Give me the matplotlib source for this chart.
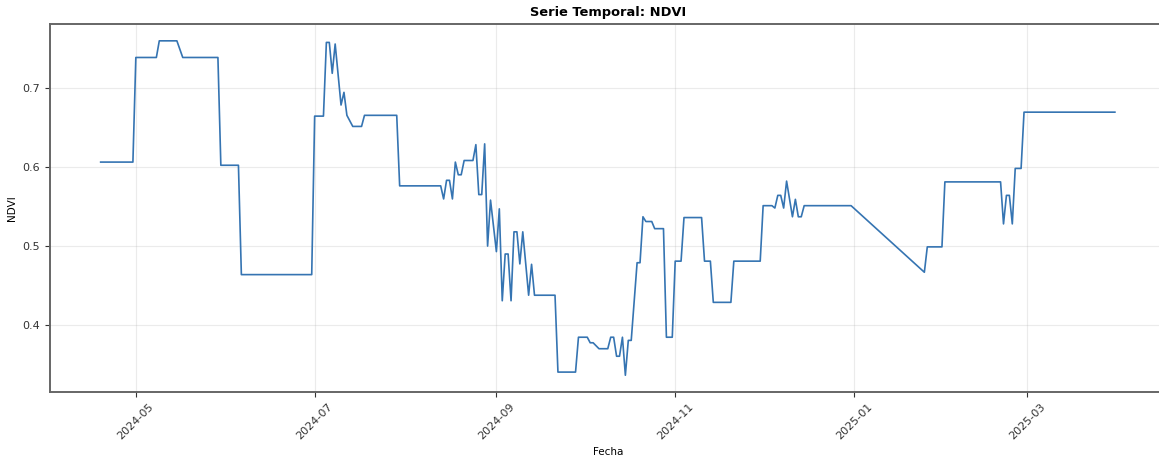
import pandas as pd
import matplotlib
matplotlib.use("Agg")
import matplotlib.pyplot as plt
import matplotlib.dates as mdates

# NDVI readings (dates where the series changes, value on that date)
fechas = [
    "2024-04-19", "2024-04-30", "2024-05-01", "2024-05-08", "2024-05-09",
    "2024-05-15", "2024-05-17", "2024-05-29", "2024-05-30", "2024-06-05",
    "2024-06-06", "2024-06-30", "2024-07-01", "2024-07-04", "2024-07-05",
    "2024-07-06", "2024-07-07", "2024-07-08", "2024-07-10", "2024-07-11",
    "2024-07-12", "2024-07-14", "2024-07-17", "2024-07-18", "2024-07-29",
    "2024-07-30", "2024-08-13", "2024-08-14", "2024-08-15", "2024-08-16",
    "2024-08-17", "2024-08-18", "2024-08-19", "2024-08-20", "2024-08-21",
    "2024-08-24", "2024-08-25", "2024-08-26", "2024-08-27", "2024-08-28",
    "2024-08-29", "2024-08-30", "2024-09-01", "2024-09-02", "2024-09-03",
    "2024-09-04", "2024-09-05", "2024-09-06", "2024-09-07", "2024-09-08",
    "2024-09-09", "2024-09-10", "2024-09-12", "2024-09-13", "2024-09-14",
    "2024-09-21", "2024-09-22", "2024-09-28", "2024-09-29", "2024-10-02",
    "2024-10-03", "2024-10-04", "2024-10-06", "2024-10-09", "2024-10-10",
    "2024-10-11", "2024-10-12", "2024-10-13", "2024-10-14", "2024-10-15",
    "2024-10-16", "2024-10-17", "2024-10-19", "2024-10-20", "2024-10-21",
    "2024-10-22", "2024-10-24", "2024-10-25", "2024-10-28", "2024-10-29",
    "2024-10-31", "2024-11-01", "2024-11-03", "2024-11-04", "2024-11-10",
    "2024-11-11", "2024-11-13", "2024-11-14", "2024-11-20", "2024-11-21",
    "2024-11-30", "2024-12-01", "2024-12-04", "2024-12-05", "2024-12-06",
    "2024-12-07", "2024-12-08", "2024-12-09", "2024-12-11", "2024-12-12",
    "2024-12-13", "2024-12-14", "2024-12-15", "2024-12-31", "2025-01-25",
    "2025-01-26", "2025-01-31", "2025-02-01", "2025-02-20", "2025-02-21",
    "2025-02-22", "2025-02-23", "2025-02-24", "2025-02-25", "2025-02-27",
    "2025-02-28", "2025-03-31",
]
ndvi = [
    0.606, 0.606, 0.738, 0.738, 0.759,
    0.759, 0.738, 0.738, 0.602, 0.602,
    0.464, 0.464, 0.664, 0.664, 0.757,
    0.757, 0.718, 0.755, 0.678, 0.694,
    0.665, 0.651, 0.651, 0.665, 0.665,
    0.576, 0.576, 0.5595, 0.583, 0.583,
    0.5595, 0.606, 0.590, 0.590, 0.608,
    0.608, 0.628, 0.565, 0.565, 0.629,
    0.500, 0.558, 0.493, 0.547, 0.431,
    0.490, 0.490, 0.431, 0.518, 0.518,
    0.4775, 0.518, 0.438, 0.477, 0.438,
    0.438, 0.341, 0.341, 0.385, 0.385,
    0.378, 0.378, 0.3705, 0.3705, 0.385,
    0.385, 0.361, 0.361, 0.385, 0.337,
    0.381, 0.381, 0.479, 0.479, 0.537,
    0.531, 0.531, 0.522, 0.522, 0.385,
    0.385, 0.481, 0.481, 0.536, 0.536,
    0.481, 0.481, 0.429, 0.429, 0.481,
    0.481, 0.551, 0.551, 0.548, 0.564,
    0.564, 0.548, 0.582, 0.537, 0.559,
    0.537, 0.537, 0.551, 0.551, 0.467,
    0.499, 0.499, 0.581, 0.581, 0.528,
    0.564, 0.564, 0.528, 0.598, 0.598,
    0.669, 0.669,
]

fechas = pd.to_datetime(fechas)

fig = plt.figure(figsize=(11.59, 4.55), dpi=100)
ax = fig.add_axes([0.0431, 0.1385, 0.9626, 0.8085])

ax.plot(fechas, ndvi, color="#3574b2", linewidth=1.2)

ax.set_title("Serie Temporal: NDVI", fontsize=9.4, fontweight="bold")
ax.set_xlabel("Fecha", fontsize=7.5)
ax.set_ylabel("NDVI", fontsize=7.5)
ax.grid(True, alpha=0.25)

ax.xaxis.set_major_locator(mdates.MonthLocator(bymonth=[1, 3, 5, 7, 9, 11]))
ax.xaxis.set_major_formatter(mdates.DateFormatter("%Y-%m"))
ax.set_yticks([0.4, 0.5, 0.6, 0.7])
ax.tick_params(labelsize=8, colors="#333333")
plt.setp(ax.get_xticklabels(), rotation=45)

for s in ax.spines.values():
    s.set_color("#666666")
    s.set_linewidth(1.4)

fig.savefig("out.png", dpi=100)
